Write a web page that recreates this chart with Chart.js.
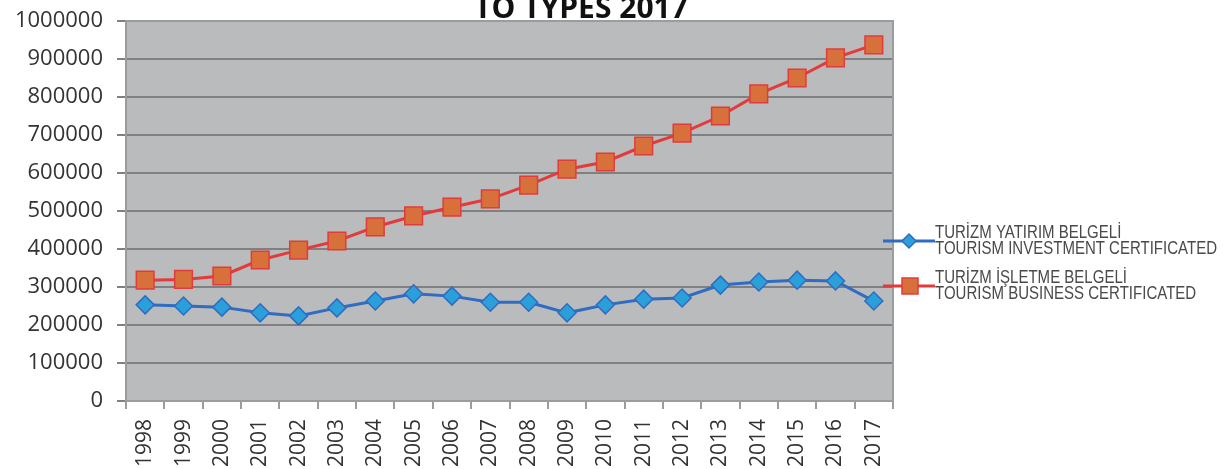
<!DOCTYPE html>
<html>
<head>
<meta charset="utf-8">
<script src="https://cdn.jsdelivr.net/npm/chart.js@4.4.1/dist/chart.umd.min.js"></script>
<style>
  html, body { margin: 0; padding: 0; background: #fff; }
  #wrap { width: 1223px; height: 469px; position: relative; }
</style>
</head>
<body>
<div id="wrap"><canvas id="tourismChart"></canvas></div>
<script>
// data
const years = ['1998', '1999', '2000', '2001', '2002', '2003', '2004', '2005', '2006', '2007',
    '2008', '2009', '2010', '2011', '2012', '2013', '2014', '2015', '2016', '2017'];
const investmentBeds = [253000, 250000, 247000, 232000, 224000, 245000, 263000, 282000, 276000, 260000,
    260000, 232000, 253000, 268000, 271000, 305000, 313000, 318000, 316000, 263000];
const businessBeds = [318000, 320000, 329000, 371000, 397000, 421000, 458000, 487000, 510000, 532000,
    568000, 610000, 629000, 671000, 705000, 750000, 808000, 850000, 903000, 937000];
const yTicks = [0, 100000, 200000, 300000, 400000, 500000, 600000, 700000, 800000, 900000, 1000000];
const titleText = 'TO TYPES 2017';
const legendItems = [
    { lines: ['TURİZM YATIRIM BELGELİ', 'TOURISM INVESTMENT CERTIFICATED'] },
    { lines: ['TURİZM İŞLETME BELGELİ', 'TOURISM BUSINESS CERTIFICATED'] }
];

const blueLine = '#2f6cc2';
const blueFill = '#2b9fd9';
const redLine = '#e23b3b';
const redFill = '#d8703b';

// grey plot area, plot frame, cut-off title and the side legend
const decorPlugin = {
    id: 'decor',
    beforeDraw(chart) {
        const { ctx, chartArea: a } = chart;
        ctx.save();
        ctx.fillStyle = '#b9bbbc';
        ctx.fillRect(a.left, a.top, a.right - a.left, a.bottom - a.top);
        ctx.restore();
    },
    afterDatasetsDraw(chart) {
        const { ctx, chartArea: a } = chart;
        ctx.save();
        ctx.strokeStyle = '#9a9c9d';
        ctx.lineWidth = 2;
        ctx.beginPath();
        ctx.moveTo(a.left, a.top);
        ctx.lineTo(a.right, a.top);
        ctx.lineTo(a.right, a.bottom);
        ctx.stroke();

        ctx.fillStyle = '#111';
        ctx.font = 'bold 30px "Open Sans"';
        ctx.textAlign = 'center';
        ctx.textBaseline = 'alphabetic';
        ctx.fillText(titleText, 581, 18);

        // legend
        const colors = [[blueLine, blueFill], [redLine, redFill]];
        const rowY = [241, 286];
        ctx.font = '18px "Liberation Sans"';
        const scaleX = 282 / ctx.measureText(legendItems[0].lines[1]).width;
        legendItems.forEach((item, i) => {
            const y = rowY[i];
            ctx.strokeStyle = colors[i][0];
            ctx.lineWidth = 3;
            ctx.beginPath();
            ctx.moveTo(883, y);
            ctx.lineTo(935, y);
            ctx.stroke();
            ctx.fillStyle = colors[i][1];
            ctx.strokeStyle = colors[i][0];
            ctx.lineWidth = 1.5;
            ctx.beginPath();
            if (i === 0) {
                ctx.moveTo(909, y - 7);
                ctx.lineTo(916, y);
                ctx.lineTo(909, y + 7);
                ctx.lineTo(902, y);
                ctx.closePath();
            } else {
                ctx.rect(902, y - 8, 16, 16);
            }
            ctx.fill();
            ctx.stroke();

            ctx.fillStyle = '#4a4a4a';
            ctx.textAlign = 'left';
            ctx.textBaseline = 'alphabetic';
            item.lines.forEach((t, k) => {
                ctx.save();
                ctx.translate(935, y - 3 + k * 16);
                ctx.scale(scaleX, 1);
                ctx.fillText(t, 0, 0);
                ctx.restore();
            });
        });
        ctx.restore();
    }
};

const ctx = document.getElementById('tourismChart');
new Chart(ctx, {
    type: 'line',
    data: {
        labels: years,
        datasets: [{
            label: 'TURİZM YATIRIM BELGELİ / TOURISM INVESTMENT CERTIFICATED',
            data: investmentBeds,
            borderColor: blueLine,
            backgroundColor: blueFill,
            borderWidth: 3,
            pointStyle: 'rectRot',
            pointRadius: 9,
            pointBorderWidth: 1.5,
            pointBorderColor: blueLine,
            pointBackgroundColor: blueFill,
            tension: 0
        }, {
            label: 'TURİZM İŞLETME BELGELİ / TOURISM BUSINESS CERTIFICATED',
            data: businessBeds,
            borderColor: redLine,
            backgroundColor: redFill,
            borderWidth: 3,
            pointStyle: 'rect',
            pointRadius: 12.5,
            pointBorderWidth: 1.5,
            pointBorderColor: redLine,
            pointBackgroundColor: redFill,
            tension: 0
        }]
    },
    options: {
        responsive: true,
        maintainAspectRatio: false,
        animation: false,
        layout: {
            padding: { left: 0, right: 330, top: 21, bottom: 0 }
        },
        plugins: {
            legend: { display: false },
            tooltip: { enabled: false }
        },
        scales: {
            x: {
                offset: true,
                grid: {
                    offset: true,
                    drawOnChartArea: false,
                    drawTicks: true,
                    tickLength: 8,
                    color: '#9a9c9d',
                    lineWidth: 2
                },
                border: { color: '#9a9c9d', width: 2 },
                ticks: {
                    minRotation: 90,
                    maxRotation: 90,
                    autoSkip: false,
                    padding: 10,
                    color: '#333',
                    font: { family: '"Open Sans"', size: 21 }
                },
                afterFit(scale) { scale.height = 68; }
            },
            y: {
                min: 0,
                max: 1000000,
                afterBuildTicks(scale) {
                    scale.ticks = yTicks.map(v => ({ value: v }));
                },
                grid: {
                    color: '#7e8081',
                    lineWidth: 2,
                    drawTicks: true,
                    tickLength: 9
                },
                border: { color: '#9a9c9d', width: 2 },
                ticks: {
                    padding: 14,
                    color: '#333',
                    font: { family: '"Open Sans"', size: 22 },
                    callback: v => String(v)
                },
                afterFit(scale) {
                    scale.width = 126;
                    scale.paddingTop = 0;
                    scale.paddingBottom = 0;
                }
            }
        }
    },
    plugins: [decorPlugin]
});
</script>
</body>
</html>
